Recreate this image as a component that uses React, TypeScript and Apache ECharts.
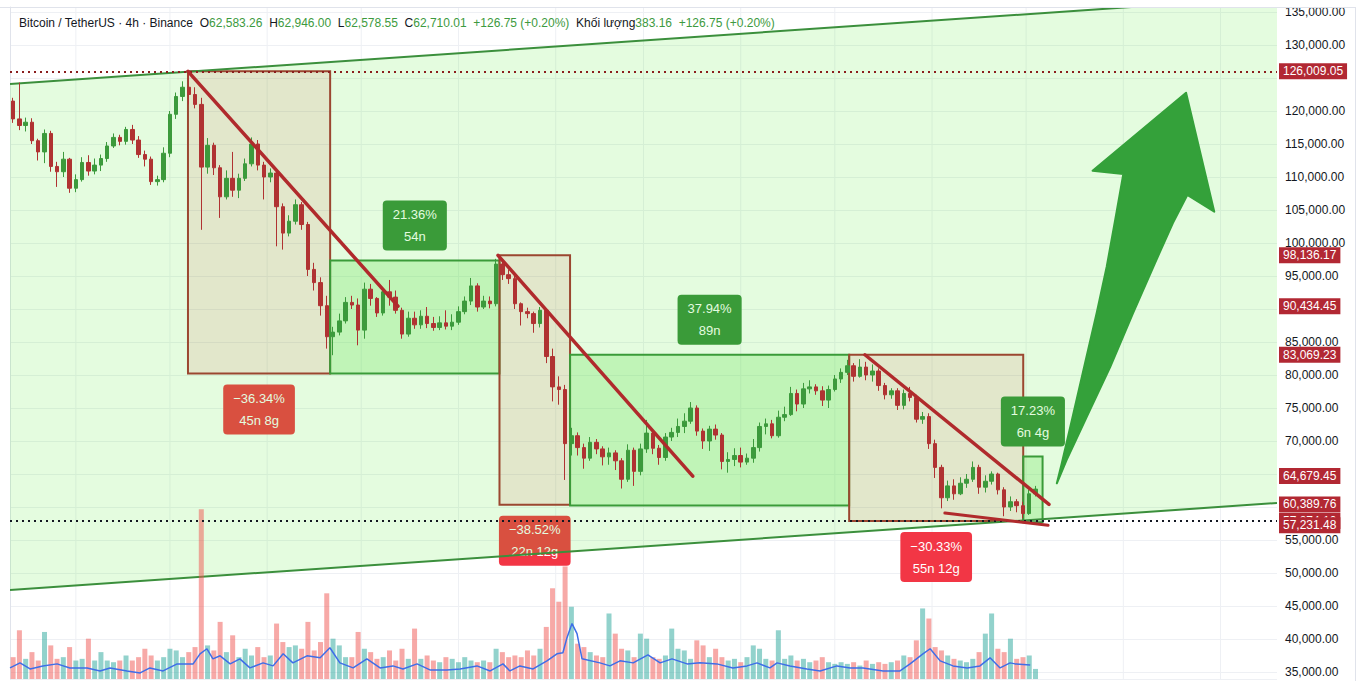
import React, { useEffect, useRef } from "react";
import * as echarts from "echarts";

const FONT = "'Liberation Sans', Arial, sans-serif";

// ---- time axis: 2-day candles starting 2025-08-11, axis spans 404 days ----
const CANDLE_START = Date.UTC(2025, 7, 11);
const CANDLE_DAYS = 2;
const AXIS_DAYS = 404;

// ---- price axis extent (USDT) ----
const PRICE_MIN = 33939.4;
const PRICE_MAX = 135757.6;
const VOL_MAX = 400;

// ---- candles [open, close, low, high] in thousand USDT ----
const candles: number[][] = [
  [121.5, 118.8, 118.2, 122.0], [118.8, 117.8, 117.1, 124.3], [117.8, 118.3, 116.9, 119.0], [118.3, 115.5, 115.0, 118.9], [115.5, 113.8, 112.5, 115.8],
  [113.8, 116.6, 112.1, 117.2], [116.6, 111.6, 110.8, 117.0], [111.6, 110.8, 108.5, 112.3], [110.8, 112.7, 110.0, 113.8], [112.7, 108.3, 107.6, 112.9],
  [108.3, 109.6, 107.7, 110.4], [109.6, 112.2, 109.3, 113.0], [112.2, 110.9, 110.2, 113.3], [110.9, 111.8, 110.4, 112.8], [111.8, 112.8, 110.9, 113.4],
  [112.8, 114.7, 112.3, 115.3], [114.7, 116.0, 114.4, 116.6], [116.0, 115.4, 114.8, 116.4], [115.4, 117.2, 114.9, 117.6], [117.2, 115.6, 115.0, 117.9],
  [115.6, 113.4, 112.9, 116.2], [113.4, 112.7, 111.6, 114.0], [112.7, 109.3, 108.8, 113.1], [109.3, 109.6, 108.7, 110.2], [109.6, 113.6, 109.2, 114.5],
  [113.6, 119.5, 113.0, 120.0], [119.5, 122.2, 118.8, 122.8], [122.2, 123.6, 121.5, 124.5], [123.6, 122.5, 121.0, 126.0], [122.5, 121.0, 120.4, 123.6],
  [121.0, 111.5, 102.0, 122.0], [111.5, 114.8, 110.5, 115.9], [114.8, 111.4, 110.3, 115.2], [111.4, 107.0, 103.8, 111.8], [107.0, 109.8, 106.6, 111.0],
  [109.8, 108.0, 107.0, 113.8], [108.0, 109.8, 106.8, 110.5], [109.8, 112.0, 109.4, 112.8], [112.0, 115.0, 111.6, 116.0], [115.0, 111.8, 111.0, 115.6],
  [111.8, 110.0, 106.6, 112.3], [110.0, 110.6, 109.2, 111.3], [110.6, 105.5, 99.5, 111.0], [105.5, 101.5, 99.0, 106.0], [101.5, 103.3, 101.0, 104.2],
  [103.3, 105.8, 102.8, 106.6], [105.8, 102.8, 102.0, 106.2], [102.8, 96.0, 95.0, 103.2], [96.0, 94.0, 92.8, 97.0], [94.0, 90.5, 89.0, 94.8],
  [90.5, 85.8, 84.0, 92.0], [85.8, 86.5, 83.0, 87.3], [86.5, 88.2, 86.0, 89.3], [88.2, 91.0, 87.8, 91.8], [91.0, 90.6, 90.0, 92.0],
  [90.6, 86.8, 84.5, 91.6], [86.8, 93.0, 85.5, 94.0], [93.0, 91.6, 90.5, 93.8], [91.6, 89.4, 88.8, 91.8], [89.4, 92.6, 89.0, 93.2],
  [92.6, 91.8, 90.5, 94.4], [91.8, 89.8, 89.3, 92.8], [89.8, 86.2, 85.5, 90.2], [86.2, 88.6, 85.8, 89.6], [88.6, 87.6, 87.0, 89.6],
  [87.6, 88.9, 87.0, 89.8], [88.9, 87.8, 87.1, 90.3], [87.8, 87.2, 86.7, 88.8], [87.2, 87.9, 86.8, 88.9], [87.9, 87.4, 86.9, 89.8],
  [87.4, 88.0, 86.8, 89.2], [88.0, 89.6, 87.6, 90.4], [89.6, 91.2, 89.2, 91.9], [91.2, 93.5, 90.6, 94.7], [93.5, 90.3, 89.6, 93.9],
  [90.3, 91.2, 90.0, 92.0], [91.2, 90.8, 90.1, 91.9], [90.8, 96.8, 90.4, 97.6], [96.8, 95.2, 94.4, 97.4], [95.2, 94.6, 93.8, 96.0],
  [94.6, 90.8, 90.0, 95.0], [90.8, 89.6, 87.5, 91.0], [89.6, 89.3, 88.6, 90.2], [89.3, 87.8, 86.4, 89.6], [87.8, 89.8, 87.2, 90.3],
  [89.8, 82.8, 81.8, 90.0], [82.8, 78.2, 76.0, 84.0], [78.2, 77.8, 75.5, 79.8], [77.8, 69.6, 64.1, 78.5], [69.6, 70.8, 67.8, 72.0],
  [70.8, 69.0, 67.8, 71.3], [69.0, 67.4, 65.8, 69.6], [67.4, 69.8, 67.0, 70.6], [69.8, 68.8, 68.0, 70.3], [68.8, 67.6, 66.3, 69.2],
  [67.6, 68.2, 66.4, 69.0], [68.2, 67.0, 65.6, 68.6], [67.0, 64.2, 62.8, 67.4], [64.2, 68.6, 63.8, 69.5], [68.6, 65.4, 63.2, 69.0],
  [65.4, 68.8, 64.8, 69.6], [68.8, 71.2, 68.2, 73.2], [71.2, 68.9, 68.0, 71.6], [68.9, 67.5, 66.4, 69.4], [67.5, 70.6, 67.0, 71.2],
  [70.6, 71.3, 70.0, 72.0], [71.3, 72.2, 70.6, 73.4], [72.2, 73.0, 71.2, 74.2], [73.0, 75.0, 72.6, 75.9], [75.0, 71.5, 70.8, 75.4],
  [71.5, 70.0, 68.8, 71.9], [70.0, 71.8, 68.5, 72.3], [71.8, 70.9, 70.2, 72.5], [70.9, 66.9, 65.7, 71.2], [66.9, 67.2, 65.2, 68.3],
  [67.2, 67.8, 66.2, 68.9], [67.8, 66.8, 66.0, 69.0], [66.8, 67.4, 66.4, 68.1], [67.4, 69.0, 66.7, 70.3], [69.0, 72.2, 68.4, 72.8],
  [72.2, 72.6, 71.0, 73.4], [72.6, 70.8, 70.4, 73.2], [70.8, 73.6, 70.5, 74.6], [73.6, 74.0, 73.0, 75.2], [74.0, 77.2, 73.8, 78.2],
  [77.2, 75.6, 74.5, 77.8], [75.6, 77.9, 75.0, 78.8], [77.9, 78.2, 77.2, 79.2], [78.2, 77.6, 77.0, 78.6], [77.6, 76.2, 75.3, 78.3],
  [76.2, 77.8, 75.0, 78.4], [77.8, 79.4, 77.5, 80.0], [79.4, 80.4, 78.8, 81.0], [80.4, 81.4, 80.0, 82.3], [81.4, 79.8, 79.0, 81.8],
  [79.8, 81.2, 79.6, 82.4], [81.2, 80.0, 79.2, 82.0], [80.0, 80.6, 79.0, 81.6], [80.6, 78.4, 77.6, 81.0], [78.4, 77.0, 76.3, 78.8],
  [77.0, 77.6, 76.4, 78.0], [77.6, 75.4, 74.7, 78.0], [75.4, 77.2, 74.8, 77.8], [77.2, 76.6, 76.0, 78.2], [76.6, 73.3, 72.8, 77.0],
  [73.3, 73.7, 72.6, 74.4], [73.7, 69.6, 68.8, 74.2], [69.6, 66.0, 64.4, 70.2], [66.0, 61.4, 59.8, 66.4], [61.4, 63.2, 60.9, 64.0],
  [63.2, 62.0, 61.1, 64.2], [62.0, 63.6, 61.8, 64.5], [63.6, 64.2, 62.9, 65.0], [64.2, 66.0, 63.8, 66.9], [66.0, 63.0, 62.0, 66.4],
  [63.0, 63.9, 62.2, 64.8], [63.9, 65.0, 63.4, 65.4], [65.0, 62.6, 61.9, 65.2], [62.6, 60.0, 58.6, 63.0], [60.0, 60.8, 59.4, 61.6],
  [60.8, 60.2, 59.2, 61.2], [60.2, 59.0, 58.3, 60.8], [59.0, 62.0, 58.8, 62.6], [62.0, 62.71, 61.6, 63.2],
];

// ---- volume per candle (arbitrary units) ----
const volumes: number[] = [
  13, 29, 12, 16, 11, 28, 20, 12, 13, 19,
  11, 12, 24, 11, 16, 11, 10, 11, 14, 11,
  13, 18, 14, 11, 13, 18, 17, 13, 16, 19,
  101, 20, 17, 34, 16, 26, 13, 18, 14, 19,
  13, 14, 33, 22, 19, 20, 18, 34, 17, 22,
  51, 24, 20, 13, 13, 28, 18, 16, 12, 13,
  17, 11, 18, 12, 30, 12, 14, 11, 10, 13,
  12, 10, 13, 11, 10, 11, 10, 18, 16, 13,
  14, 13, 17, 14, 18, 31, 54, 46, 67, 43,
  21, 19, 16, 14, 13, 39, 27, 18, 17, 13,
  27, 24, 13, 12, 14, 30, 18, 17, 12, 23,
  20, 13, 18, 13, 11, 12, 10, 13, 20, 18,
  12, 11, 29, 12, 14, 11, 12, 10, 11, 13,
  10, 9, 10, 9, 10, 8, 11, 9, 10, 9,
  10, 11, 14, 13, 23, 42, 36, 19, 17, 14,
  12, 11, 10, 12, 16, 27, 39, 18, 16, 24,
  12, 13, 14, 6,
];

// ---- volume moving average [day, value] ----
const volumeMa: number[][] = [
  [0, 6.6], [3.2, 9.6], [6.4, 6], [10.5, 7.8], [15, 9], [19.1, 6.6], [24.6, 6.6], [28.7, 4.8], [31.9, 6.6], [37.3, 4.8],
  [41.5, 3.6], [44.6, 6.6], [48.8, 4.8], [53.3, 9], [58.4, 9], [60.6, 15], [62.8, 18], [64.7, 12], [67, 13.8], [70.2, 9],
  [73.3, 12], [76.5, 6.6], [80.7, 9.6], [83.9, 7.8], [87.1, 15], [90.2, 9.6], [94.7, 13.8], [98.9, 12.6], [102, 18.6], [105.2, 9.6],
  [109.4, 6.6], [113.8, 12], [118, 6.6], [122.1, 7.8], [125.3, 6], [129.8, 9], [133.9, 5.4], [139.3, 5.4], [143.5, 6], [148.9, 7.8],
  [153.1, 4.8], [157.2, 9], [159.4, 4.8], [162.6, 7.8], [166.8, 6], [171.2, 10.8], [174.4, 15], [176.3, 15.6], [177.6, 24.6], [179.2, 33],
  [180.8, 27], [182.4, 12], [188.1, 9.6], [191.3, 7.8], [194.5, 10.8], [198.7, 9.6], [203.4, 14.4], [207.3, 9.6], [211.1, 12], [215.9, 9],
  [220, 9.6], [225.4, 9], [230.5, 6.6], [235, 7.8], [238.2, 9.6], [242.3, 6.6], [244.6, 9.6], [248.7, 7.8], [254.1, 6], [258.3, 4.8],
  [263.7, 7.8], [267.9, 6.6], [272, 6.6], [278.4, 4.8], [283.8, 4.8], [287, 9], [291.1, 15], [293.4, 18], [296.6, 10.8], [300.7, 7.8],
  [305.2, 6.6], [309.3, 7.8], [312.5, 12.6], [315.7, 6.6], [318.9, 9.6], [320.5, 9], [325.3, 8.4],
];

// ---- date & price range boxes [fromDay, toDay, low, high] ----
const boxRanges: number[][] = [
  [56.75, 102.08, 80217, 126009.05],
  [102.08, 156.08, 80217, 97351],
  [156.08, 178.58, 60334, 98136.17],
  [178.58, 267.58, 60219, 83069.23],
  [267.58, 323.08, 57874.1, 83069.23],
  [323.08, 329.25, 57700, 67642],
];
const boxChange = ["\u221236.34%", "21.36%", "\u221238.52%", "37.94%", "\u221230.33%", "17.23%"];
const boxDuration = ["45n 8g", "54n", "22n 12g", "89n", "55n 12g", "6n 4g"];

// ---- trend lines [day1, price1, day2, price2] ----
const trendLines: number[][] = [
  [56.75, 126009.05, 123.7, 90434.45],
  [155.6, 98136.17, 217.7, 64679.45],
  [272.6, 83069.23, 331.3, 60389.76],
  [298.1, 59090, 331.0, 57231.48],
];

// ---- parallel channel [day, price] ----
const channelUpper: number[][] = [[0, 124091], [404, 137273]];
const channelLower: number[][] = [[0, 47424], [404, 60606]];

// ---- arrow drawing [day, price] ----
const arrowShape: number[][] = [
  [375.0, 122773], [384.0, 104742], [375.4, 107273], [370.8, 103030], [365.1, 96970], [358.1, 89394],
  [350.8, 81212], [343.3, 73636], [336.9, 67121], [333.8, 63591], [335.4, 66667], [338.6, 73182],
  [342.8, 81818], [346.5, 89394], [349.7, 96409], [352.4, 103485], [355.0, 110455], [345.2, 110955],
];

// ---- price-scale labels of drawings ----
const levelPrices = [57874.1, 126009.05, 98136.17, 90434.45, 83069.23, 64679.45, 60389.76, 57231.48];

// ---- legend ----
const legendOhlc = { O: "62,583.26", H: "62,946.00", L: "62,578.55", C: "62,710.01" };
const legendChange = "+126.75 (+0.20%)";
const legendVolume = "383.16";

const fmt = (v: number) =>
  v.toLocaleString("en-US", { minimumFractionDigits: 2, maximumFractionDigits: 2 });

function monthStartDays(): number[] {
  const out: number[] = [];
  for (let k = 0; k < 14; k++) {
    const y = 2025 + Math.floor((8 + k) / 12);
    const m = (8 + k) % 12;
    const d = (Date.UTC(y, m, 1) - CANDLE_START) / 86400000;
    if (d > 0 && d < AXIS_DAYS) out.push(d);
  }
  return out;
}

function buildOption() {
  const candleData = candles.map((c, i) => [
    i * CANDLE_DAYS + CANDLE_DAYS / 2,
    c[0] * 1000,
    c[1] * 1000,
    c[2] * 1000,
    c[3] * 1000,
  ]);
  const volData = volumes.map((v, i) => [i * CANDLE_DAYS + CANDLE_DAYS / 2, v]);
  const months = monthStartDays();

  const levelLabel = {
    show: true,
    position: "end",
    distance: 2,
    color: "#ffffff",
    backgroundColor: "#b22833",
    fontFamily: FONT,
    fontSize: 12,
    lineHeight: 13,
    padding: [2, 4, 1, 4],
    formatter: (p: any) => fmt(p.value),
  };

  const levelData = levelPrices.map((p) => {
    let lineStyle: any = { width: 0, color: "rgba(0,0,0,0)" };
    if (p === 126009.05) lineStyle = { type: [2, 4], width: 2, color: "#8b1e1e" };
    if (p === 57874.1) lineStyle = { type: [2, 4], width: 2, color: "#131722" };
    return { yAxis: p, lineStyle, label: levelLabel };
  });

  // axis ticks hidden behind a drawing's price label (as on the reference price scale)
  const coveredByLevel = (v: number) => levelPrices.some((p) => Math.abs(p - v) < 1500);

  const legendText =
    "{d|Bitcoin / TetherUS · 4h · Binance}  " +
    "{d|O}{g|" + legendOhlc.O + "}  {d|H}{g|" + legendOhlc.H + "}  {d|L}{g|" + legendOhlc.L +
    "}  {d|C}{g|" + legendOhlc.C + "}  {g|" + legendChange + "}  {d|Khối lượng}{g|" + legendVolume +
    "}  {g|" + legendChange + "}";

  return {
    animation: false,
    backgroundColor: "#ffffff",
    title: {
      left: 14,
      top: 12,
      z: 20,
      text: legendText,
      textStyle: {
        fontFamily: FONT,
        fontSize: 12,
        fontWeight: "normal",
        color: "#131722",
        rich: {
          d: { color: "#131722", fontSize: 12, fontFamily: FONT },
          g: { color: "#3d9a40", fontSize: 12, fontFamily: FONT },
        },
      },
    },
    grid: { left: 10, right: 88, top: 7, bottom: 2, containLabel: false },
    xAxis: {
      type: "value",
      min: 0,
      max: AXIS_DAYS,
      show: false,
      splitLine: { show: false },
    },
    yAxis: [
      {
        type: "value",
        position: "right",
        min: PRICE_MIN,
        max: PRICE_MAX,
        splitNumber: 20,
        minInterval: 5000,
        maxInterval: 5000,
        axisLine: { show: true, lineStyle: { color: "#e0e3eb" } },
        axisTick: { show: false },
        axisLabel: {
          color: "#131722",
          fontSize: 12,
          fontFamily: FONT,
          margin: 8,
          formatter: (v: number) =>
            Math.abs(v % 5000) < 1e-6 && !coveredByLevel(v) ? fmt(v) : "",
        },
        splitLine: { show: true, lineStyle: { color: "#eef0f4", width: 1 } },
      },
      { type: "value", min: 0, max: VOL_MAX, show: false, splitLine: { show: false } },
    ],
    series: [
      {
        type: "custom",
        name: "monthGrid",
        z: 1,
        silent: true,
        clip: true,
        data: months.map((d) => [d, PRICE_MIN]),
        renderItem: (params: any, api: any) => {
          const d = api.value(0);
          const a = api.coord([d, PRICE_MAX]);
          const b = api.coord([d, PRICE_MIN]);
          return {
            type: "line",
            shape: { x1: a[0], y1: a[1], x2: b[0], y2: b[1] },
            style: { stroke: "#eef0f4", lineWidth: 1 },
          };
        },
      },
      {
        type: "custom",
        name: "boxes",
        z: 2,
        silent: true,
        clip: true,
        data: boxRanges.map((b) => [b[0], b[2]]),
        renderItem: (params: any, api: any) => {
          const b = boxRanges[params.dataIndex];
          const up = !boxChange[params.dataIndex].startsWith("\u2212");
          const p0 = api.coord([b[0], b[3]]);
          const p1 = api.coord([b[1], b[2]]);
          const cx = (p0[0] + p1[0]) / 2;
          return {
            type: "group",
            children: [
              {
                type: "rect",
                shape: { x: p0[0], y: p0[1], width: p1[0] - p0[0], height: p1[1] - p0[1] },
                style: {
                  fill: up ? "rgba(100,220,80,0.27)" : "rgba(242,54,69,0.12)",
                  stroke: up ? "#388e3c" : "#aa2b32",
                  lineWidth: 2,
                },
              },
              {
                type: "text",
                x: cx,
                y: up ? p0[1] - 10 : p1[1] + 11,
                style: {
                  text: boxChange[params.dataIndex] + "\n" + boxDuration[params.dataIndex],
                  fill: "#ffffff",
                  font: "13px " + FONT,
                  align: "center",
                  verticalAlign: up ? "bottom" : "top",
                  lineHeight: 22,
                  backgroundColor: up ? "#388e3c" : "#f23645",
                  borderRadius: 4,
                  padding: [3, 10, 3, 10],
                },
              },
            ],
          };
        },
      },
      {
        type: "custom",
        name: "channel",
        z: 3,
        silent: true,
        clip: true,
        data: [[0, 60000]],
        renderItem: (params: any, api: any) => {
          const u0 = api.coord(channelUpper[0]);
          const u1 = api.coord(channelUpper[1]);
          const l0 = api.coord(channelLower[0]);
          const l1 = api.coord(channelLower[1]);
          return {
            type: "group",
            children: [
              {
                type: "polygon",
                shape: { points: [u0, u1, l1, l0] },
                style: { fill: "rgba(76,235,40,0.15)" },
              },
              {
                type: "line",
                shape: { x1: u0[0], y1: u0[1], x2: u1[0], y2: u1[1] },
                style: { stroke: "#3b8f3c", lineWidth: 2 },
              },
              {
                type: "line",
                shape: { x1: l0[0], y1: l0[1], x2: l1[0], y2: l1[1] },
                style: { stroke: "#3b8f3c", lineWidth: 2 },
              },
            ],
          };
        },
      },
      {
        type: "bar",
        name: "volume",
        xAxisIndex: 0,
        yAxisIndex: 1,
        z: 4,
        silent: true,
        barWidth: 5,
        data: volData,
        itemStyle: {
          color: (p: any) =>
            candles[p.dataIndex][1] >= candles[p.dataIndex][0]
              ? "rgba(38,166,154,0.5)"
              : "rgba(239,83,80,0.5)",
        },
      },
      {
        type: "line",
        name: "volumeMa",
        xAxisIndex: 0,
        yAxisIndex: 1,
        z: 5,
        silent: true,
        showSymbol: false,
        symbol: "none",
        data: volumeMa,
        lineStyle: { color: "#3e6ee8", width: 1.5 },
      },
      {
        type: "candlestick",
        name: "BTCUSDT",
        z: 5,
        silent: true,
        barWidth: 4,
        encode: { x: 0, y: [1, 2, 3, 4] },
        data: candleData,
        itemStyle: {
          color: "#3c9a3c",
          color0: "#b03232",
          borderColor: "#3c9a3c",
          borderColor0: "#b03232",
          borderWidth: 1,
        },
      },
      {
        type: "custom",
        name: "trendLines",
        z: 6,
        silent: true,
        clip: true,
        data: trendLines.map((t) => [t[0], t[1]]),
        renderItem: (params: any, api: any) => {
          const t = trendLines[params.dataIndex];
          const a = api.coord([t[0], t[1]]);
          const b = api.coord([t[2], t[3]]);
          return {
            type: "line",
            shape: { x1: a[0], y1: a[1], x2: b[0], y2: b[1] },
            style: { stroke: "#b02a2c", lineWidth: params.dataIndex === 3 ? 3 : 3.5, lineCap: "round" },
          };
        },
      },
      {
        type: "custom",
        name: "arrow",
        z: 7,
        silent: true,
        clip: true,
        data: [arrowShape[0]],
        renderItem: (params: any, api: any) => {
          const pts = arrowShape.map((p) => api.coord(p));
          return {
            type: "polygon",
            shape: { points: pts },
            style: { fill: "#34a13a", stroke: "#34a13a", lineWidth: 2, lineJoin: "round" },
          };
        },
      },
      {
        type: "line",
        name: "levels",
        z: 9,
        silent: true,
        clip: false,
        showSymbol: false,
        symbol: "none",
        lineStyle: { opacity: 0 },
        data: [[0, levelPrices[1]]],
        markLine: {
          silent: true,
          symbol: ["none", "none"],
          animation: false,
          data: levelData,
        },
      },
    ],
  };
}

export default function App() {
  const ref = useRef<HTMLDivElement>(null);
  useEffect(() => {
    if (!ref.current) return;
    const chart = echarts.init(ref.current, null, { renderer: "svg" });
    chart.setOption(buildOption() as any);
    return () => chart.dispose();
  }, []);
  return (
    <div
      style={{
        position: "fixed",
        left: 0,
        top: 0,
        width: 1365,
        height: 681,
        background: "#ffffff",
        overflow: "hidden",
      }}
    >
      <div ref={ref} style={{ width: 1365, height: 681 }} />
      <div
        style={{
          position: "absolute",
          left: 0,
          top: 7,
          width: 1356,
          height: 674,
          borderTop: "1px solid #e0e3eb",
          borderRight: "1px solid #e0e3eb",
          boxSizing: "border-box",
          pointerEvents: "none",
        }}
      />
    </div>
  );
}
